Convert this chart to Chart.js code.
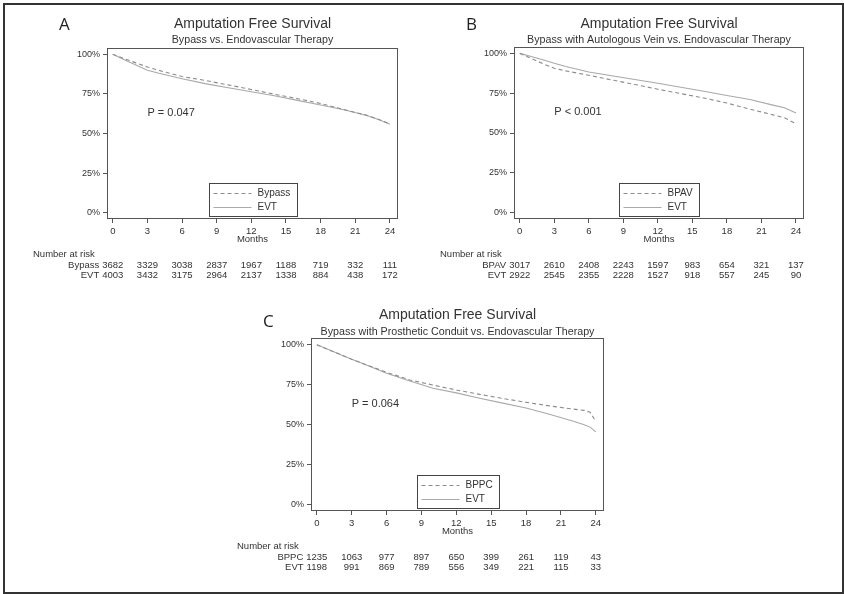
<!DOCTYPE html>
<html>
<head>
<meta charset="utf-8">
<title>Amputation Free Survival</title>
<script src="https://cdn.jsdelivr.net/npm/chart.js@4.4.1/dist/chart.umd.min.js"></script>
<style>
  html, body { margin: 0; padding: 0; background: #fff; overflow: hidden; }
  body { width: 844px; height: 594px; position: relative; }
  .frame { position: absolute; left: 3px; top: 3px; width: 837px; height: 587px; border: 2px solid #333; }
  canvas { position: absolute; }
</style>
</head>
<body>
<div class="frame"></div>
<canvas id="chart-a" style="left:0;top:0;width:420px;height:290px" width="420" height="290"></canvas>
<canvas id="chart-b" style="left:420px;top:0;width:424px;height:290px" width="424" height="290"></canvas>
<canvas id="chart-c" style="left:220px;top:290px;width:424px;height:304px" width="424" height="304"></canvas>

<script>
/* ── Shared axis values ── */
const monthTicks = [0, 3, 6, 9, 12, 15, 18, 21, 24];
const pctTicks   = [0, 25, 50, 75, 100];

/* ── Panel A: Bypass vs EVT ── */
const kmMonthsA = [0, 1, 2, 3, 4, 5, 6, 8, 10, 12, 14, 16, 18, 20, 22, 23, 24];
const bypassA   = [100, 97.3, 94.6, 92.0, 89.9, 87.9, 86.0, 83.5, 80.7, 77.8, 74.8, 72.0, 69.0, 65.2, 61.5, 59.0, 56.0];
const evtA      = [100, 96.6, 93.2, 89.9, 88.0, 86.3, 84.6, 81.5, 78.9, 76.4, 73.8, 70.9, 68.0, 65.0, 61.4, 58.9, 55.8];
const riskBypassA = [3682, 3329, 3038, 2837, 1967, 1188, 719, 332, 111];
const riskEvtA    = [4003, 3432, 3175, 2964, 2137, 1338, 884, 438, 172];

/* ── Panel B: Bypass w/ autologous vein vs EVT ── */
const kmMonthsB = [0, 1, 2, 3, 4, 5, 6, 8, 10, 12, 14, 16, 18, 20, 22, 23, 24];
const bpavB     = [100, 96.8, 93.6, 90.6, 89.0, 87.6, 86.3, 83.3, 80.5, 77.5, 74.7, 72.0, 68.8, 65.0, 61.4, 59.6, 55.8];
const evtB      = [100, 98.0, 96.0, 93.8, 91.8, 90.0, 88.3, 85.9, 83.6, 81.2, 78.7, 76.2, 73.5, 71.0, 67.5, 65.8, 62.5];
const riskBpavB = [3017, 2610, 2408, 2243, 1597, 983, 654, 321, 137];
const riskEvtB  = [2922, 2545, 2355, 2228, 1527, 918, 557, 245, 90];

/* ── Panel C: Bypass w/ prosthetic conduit vs EVT ── */
const kmMonthsC = [0, 1, 2, 3, 4, 5, 6, 8, 10, 12, 14, 16, 18, 20, 22, 23, 23.5, 24];
const bppcC     = [100, 97.0, 94.0, 91.0, 88.2, 85.5, 82.8, 78.0, 74.8, 71.7, 69.0, 66.4, 64.0, 61.8, 59.8, 59.0, 57.8, 52.0];
const evtC      = [100, 97.0, 94.0, 91.0, 88.2, 85.2, 82.2, 77.3, 72.8, 69.9, 66.6, 63.5, 60.5, 56.5, 52.3, 50.0, 48.5, 45.5];
const riskBppcC = [1235, 1063, 977, 897, 650, 399, 261, 119, 43];
const riskEvtC  = [1198, 991, 869, 789, 556, 349, 221, 115, 33];

const FONT = "'Liberation Sans', Arial, Helvetica, sans-serif";
const INK  = '#333';

Chart.defaults.font.family = FONT;
Chart.defaults.color = INK;

/* ── Plot frame (box round the chart area) ── */
const plotFrame = {
  id: 'plotFrame',
  beforeDatasetsDraw(chart) {
    const { ctx, chartArea: a } = chart;
    ctx.save();
    ctx.strokeStyle = '#555';
    ctx.lineWidth = 1;
    ctx.strokeRect(Math.round(a.left) + 0.5, Math.round(a.top) + 0.5,
                   Math.round(a.width) - 1, Math.round(a.height) - 1);
    ctx.restore();
  }
};

/* ── Panel letter, p-value, inset legend, number-at-risk table ── */
const panelNotes = {
  id: 'panelNotes',
  afterDraw(chart, args, o) {
    const { ctx, chartArea: a, scales: { x, y } } = chart;
    ctx.save();

    /* Letter */
    ctx.fillStyle = '#222';
    ctx.font = "17px 'Open Sans', " + FONT;
    ctx.textAlign = 'left';
    ctx.textBaseline = 'middle';
    ctx.fillText(o.letter, a.left - 48, o.letterY);

    /* P value */
    ctx.fillStyle = INK;
    ctx.font = '11px ' + FONT;
    ctx.fillText(o.pText, x.getPixelForValue(o.pAt[0]), y.getPixelForValue(o.pAt[1]));

    /* Inset legend */
    ctx.font = '10px ' + FONT;
    const sets = chart.data.datasets;
    const tw = Math.max(...sets.map(d => ctx.measureText(d.label).width));
    const bw = Math.round(48 + tw + 7), bh = 33;
    const bx = Math.round((a.left + a.right) / 2 - bw / 2) + 0.5;
    const by = Math.round(a.bottom - 3 - bh) + 0.5;
    ctx.fillStyle = '#fff';
    ctx.fillRect(bx, by, bw, bh);
    ctx.strokeStyle = '#444';
    ctx.lineWidth = 1;
    ctx.strokeRect(bx, by, bw, bh);
    sets.forEach((d, i) => {
      const ly = by + 10 + i * 14;
      ctx.beginPath();
      ctx.setLineDash(d.borderDash || []);
      ctx.strokeStyle = d.borderColor;
      ctx.lineWidth = 1;
      ctx.moveTo(bx + 4, ly);
      ctx.lineTo(bx + 42, ly);
      ctx.stroke();
      ctx.setLineDash([]);
      ctx.fillStyle = INK;
      ctx.fillText(d.label, bx + 48, ly);
    });

    /* Number at risk */
    ctx.font = '9.5px ' + FONT;
    ctx.fillStyle = INK;
    ctx.textAlign = 'left';
    ctx.fillText('Number at risk', a.left - 74, a.bottom + 35);
    o.risk.forEach((row, r) => {
      const ry = a.bottom + 46 + r * 10.5;
      row.values.forEach((v, i) => {
        ctx.textAlign = 'center';
        ctx.fillText(String(v), x.getPixelForValue(monthTicks[i]), ry);
      });
      const w0 = ctx.measureText(String(row.values[0])).width;
      ctx.textAlign = 'right';
      ctx.fillText(row.label, x.getPixelForValue(monthTicks[0]) - w0 / 2 - 3, ry);
    });

    ctx.restore();
  }
};

function curve(months, vals) {
  return months.map((m, i) => ({ x: m, y: vals[i] }));
}

/* Build one Kaplan–Meier panel */
function kmPanel(id, p) {
  const titleLH = 14 * 1.2, subLH = 10.7 * 1.2, axLH = 9.5 * 1.2;
  const tTop = p.titleY - titleLH / 2;
  const tBot = Math.max(0, (p.subY - subLH / 2) - (p.titleY + titleLH / 2));
  const sBot = Math.max(0, p.plotTop - (p.subY + subLH / 2));

  return new Chart(document.getElementById(id), {
    type: 'line',
    data: {
      datasets: [
        {
          label: p.names[0],
          data: curve(p.months, p.series[0]),
          borderColor: '#8c8c8c',
          borderWidth: 1.1,
          borderDash: [4, 3],
          pointRadius: 0,
          tension: 0
        },
        {
          label: p.names[1],
          data: curve(p.months, p.series[1]),
          borderColor: '#a9a9a9',
          borderWidth: 1.1,
          pointRadius: 0,
          tension: 0
        }
      ]
    },
    options: {
      responsive: false,
      animation: false,
      devicePixelRatio: 1,
      events: [],
      layout: { padding: { left: 0, right: p.padRight, top: 0, bottom: 0 } },
      plugins: {
        legend: { display: false },
        tooltip: { enabled: false },
        title: {
          display: true,
          text: 'Amputation Free Survival',
          fullSize: false,
          color: INK,
          font: { family: FONT, size: 14, weight: 'normal' },
          padding: { top: tTop, bottom: tBot }
        },
        subtitle: {
          display: true,
          text: p.subtitle,
          fullSize: false,
          color: INK,
          font: { family: FONT, size: 10.7, weight: 'normal' },
          padding: { top: 0, bottom: sBot }
        },
        panelNotes: {
          letter: p.letter,
          letterY: p.letterY,
          pText: p.pText,
          pAt: [3, 63],
          risk: [
            { label: p.names[0], values: p.risk[0] },
            { label: p.names[1], values: p.risk[1] }
          ]
        }
      },
      scales: {
        x: {
          type: 'linear',
          min: -0.5,
          max: 24.7,
          afterBuildTicks: s => { s.ticks = monthTicks.map(v => ({ value: v })); },
          afterFit: s => { s.height = p.xAxisH; },
          grid: { drawOnChartArea: false, drawTicks: true, tickLength: 4, color: '#555' },
          border: { display: false },
          ticks: { autoSkip: false, maxRotation: 0, padding: 3, color: INK, font: { size: 9.5 } },
          title: {
            display: true,
            text: 'Months',
            color: INK,
            font: { size: 9.5 },
            padding: { top: 0, bottom: p.xAxisH - 20.5 - axLH / 2 }
          }
        },
        y: {
          min: -4,
          max: 104,
          afterBuildTicks: s => { s.ticks = pctTicks.map(v => ({ value: v })); },
          afterFit: s => { s.width = p.yAxisW; },
          grid: { drawOnChartArea: false, drawTicks: true, tickLength: 4, color: '#555' },
          border: { display: false },
          ticks: { autoSkip: false, padding: 3, color: INK, font: { size: 9 }, callback: v => v + '%' }
        }
      }
    },
    plugins: [plotFrame, panelNotes]
  });
}

kmPanel('chart-a', {
  letter: 'A', letterY: 25, titleY: 24, subY: 40, plotTop: 48,
  subtitle: 'Bypass vs. Endovascular Therapy',
  names: ['Bypass', 'EVT'],
  months: kmMonthsA, series: [bypassA, evtA], risk: [riskBypassA, riskEvtA],
  pText: 'P = 0.047',
  yAxisW: 107, padRight: 22, xAxisH: 71
});

kmPanel('chart-b', {
  letter: 'B', letterY: 25, titleY: 24, subY: 40, plotTop: 47,
  subtitle: 'Bypass with Autologous Vein vs. Endovascular Therapy',
  names: ['BPAV', 'EVT'],
  months: kmMonthsB, series: [bpavB, evtB], risk: [riskBpavB, riskEvtB],
  pText: 'P < 0.001',
  yAxisW: 94, padRight: 40, xAxisH: 71
});

kmPanel('chart-c', {
  letter: 'C', letterY: 32, titleY: 25, subY: 42, plotTop: 48,
  subtitle: 'Bypass with Prosthetic Conduit vs. Endovascular Therapy',
  names: ['BPPC', 'EVT'],
  months: kmMonthsC, series: [bppcC, evtC], risk: [riskBppcC, riskEvtC],
  pText: 'P = 0.064',
  yAxisW: 91, padRight: 40, xAxisH: 83
});
</script>
</body>
</html>
